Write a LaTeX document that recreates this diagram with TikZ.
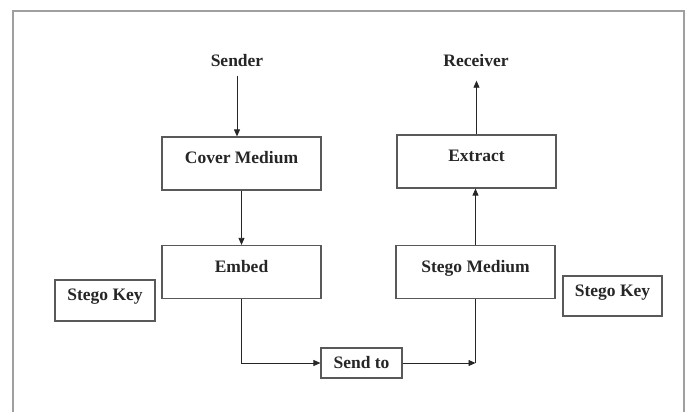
\documentclass[tikz,border=0pt]{standalone}
\usepackage{fontspec}
\setmainfont{Liberation Serif}
\usetikzlibrary{arrows.meta}

\begin{document}
\begin{tikzpicture}
  [x=1pt, y=-1pt,
   every node/.style={font=\fontsize{17.5}{20}\selectfont\bfseries, text=black!85},
   block/.style={rectangle, draw=black!65, line width=1.2pt, minimum width=159pt, minimum height=53pt, text height=12pt, text depth=12pt, inner sep=0pt},
   keybox/.style={rectangle, draw=black!65, line width=1.2pt, minimum width=100pt, minimum height=41pt, text height=12pt, text depth=12pt, inner sep=0pt},
   sendbox/.style={rectangle, draw=black!65, line width=1.2pt, minimum width=81pt, minimum height=30pt, inner sep=0pt},
   edge/.style={line width=0.8pt, draw=black!85},
   flow/.style={edge, -{Triangle[length=7pt, width=6pt]}}]

  \useasboundingbox (0,0) rectangle (689,412);

  % Marco
  \draw[gray!75, line width=2pt] (13,420) -- (13,11) -- (684,11) -- (684,420);

  % Emisor
  \node (sender) at (237,61) {Sender};
  \node[block] (cover) at (241.5,163.5) {Cover Medium};
  \node[block] (embed) at (241.5,272) {Embed};
  \node[keybox] (keyL) at (105,300.5) {Stego Key};

  % Receptor
  \node (receiver) at (476,61) {Receiver};
  \node[block] (extract) at (476.5,161.5) {Extract};
  \node[block] (stego) at (475.5,272) {Stego Medium};
  \node[keybox, minimum width=99pt, minimum height=40pt] (keyR) at (612.5,296) {Stego Key};

  % Canal
  \node[sendbox] (send) at (361.5,363) {Send to};
  \coordinate (corner) at (send.east -| stego.south);

  % Flechas
  \draw[flow, shorten <=5pt] (sender) -- (sender |- cover.north);
  \draw[flow] (cover.south) -- (embed.north);
  \draw[flow] (embed.south) |- (send.west);
  \draw[flow] (send.east) -- (corner);
  \draw[edge] (stego.south) -- (corner);
  \draw[flow] (stego.north) -- (stego.north |- extract.south);
  \draw[flow, shorten >=10pt] (extract.north) -- (extract.north |- receiver.south);
\end{tikzpicture}
\end{document}
